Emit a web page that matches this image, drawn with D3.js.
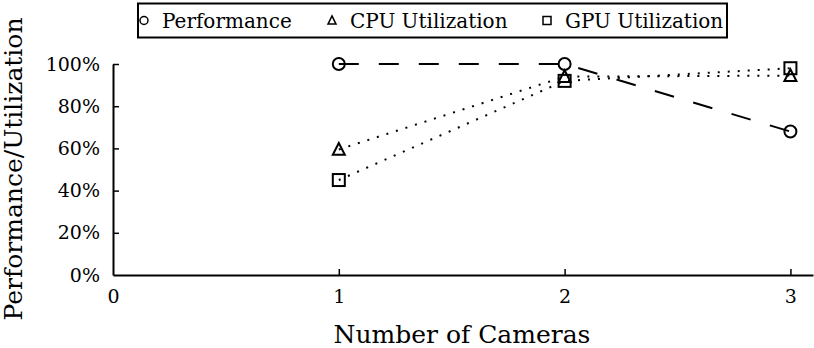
<!DOCTYPE html>
<html>
<head>
<meta charset="utf-8">
<script src="https://cdn.jsdelivr.net/npm/d3@7"></script>
<style>
  body { margin: 0; background: #fff; }
  text { fill: #000; }
</style>
</head>
<body>
<script>
// data
var cameras = [1, 2, 3];
var performance = [1.00, 1.00, 0.68];
var cpuUtil = [0.595, 0.94, 0.945];
var gpuUtil = [0.45, 0.92, 0.98];
var xTicks = [0, 1, 2, 3];
var yTicks = [0, 0.2, 0.4, 0.6, 0.8, 1.0];

var series = [
  { name: "Performance", values: performance, dash: "20,20", marker: "circle" },
  { name: "CPU Utilization", values: cpuUtil, dash: "2,8", marker: "triangle" },
  { name: "GPU Utilization", values: gpuUtil, dash: "2,8", marker: "square" }
];

var serif = "'DejaVu Serif', serif";

var width = 814, height = 348;
var svg = d3.select("body").append("svg")
  .attr("width", width)
  .attr("height", height);

var x = d3.scaleLinear().domain([0, 3.1]).range([113, 813]);
var y = d3.scaleLinear().domain([0, 1]).range([275, 64]);

// axes (ticks point inward)
var xAxis = svg.append("g")
  .attr("transform", "translate(0," + y(0) + ")")
  .call(d3.axisBottom(x).tickValues(xTicks).tickSizeInner(-6).tickSizeOuter(0).tickPadding(15).tickFormat(d3.format("d")));
var yAxis = svg.append("g")
  .attr("transform", "translate(" + x(0) + ",0)")
  .call(d3.axisLeft(y).tickValues(yTicks).tickSizeInner(-6).tickSizeOuter(0).tickPadding(13).tickFormat(d3.format(".0%")));

[xAxis, yAxis].forEach(function (g) {
  g.attr("font-family", serif).attr("font-size", 19);
  g.select(".domain").attr("stroke", "#000").attr("stroke-width", 2);
  g.selectAll(".tick line").attr("stroke", "#000").attr("stroke-width", 1.5);
  g.selectAll(".tick text").attr("fill", "#000");
});
yAxis.selectAll(".tick line").filter(function (d) { return d === 0; }).remove();
xAxis.selectAll(".tick line").filter(function (d) { return d === 0; }).remove();

// axis titles
svg.append("text")
  .attr("x", 462).attr("y", 343)
  .attr("text-anchor", "middle")
  .attr("font-family", serif)
  .attr("font-size", 25)
  .text("Number of Cameras");
svg.append("text")
  .attr("transform", "translate(22,169) rotate(-90)")
  .attr("text-anchor", "middle")
  .attr("font-family", serif)
  .attr("font-size", 25)
  .text("Performance/Utilization");

// markers
function drawMarker(g, type, cx, cy, s) {
  if (type === "circle") {
    g.append("circle").attr("cx", cx).attr("cy", cy).attr("r", s / 2);
  } else if (type === "triangle") {
    var h = s * 0.9;
    g.append("path").attr("d", "M" + cx + "," + (cy - h / 2 - 1) +
      "L" + (cx + s / 2) + "," + (cy + h / 2) + "L" + (cx - s / 2) + "," + (cy + h / 2) + "Z");
  } else {
    g.append("rect").attr("x", cx - s / 2).attr("y", cy - s / 2).attr("width", s).attr("height", s);
  }
}

var line = d3.line()
  .x(function (d) { return x(d[0]); })
  .y(function (d) { return y(d[1]); });

series.forEach(function (s) {
  var pts = cameras.map(function (c, i) { return [c, s.values[i]]; });
  svg.append("path")
    .datum(pts)
    .attr("d", line)
    .attr("fill", "none")
    .attr("stroke", "#000")
    .attr("stroke-width", 2)
    .attr("stroke-dasharray", s.dash);
  var g = svg.append("g").attr("fill", "none").attr("stroke", "#000").attr("stroke-width", 2);
  pts.forEach(function (p) { drawMarker(g, s.marker, x(p[0]), y(p[1]), 12); });
});

// legend
svg.append("rect")
  .attr("x", 138).attr("y", 3.5)
  .attr("width", 589).attr("height", 34)
  .attr("fill", "#fff")
  .attr("stroke", "#000").attr("stroke-width", 2);
var legendX = [144, 332, 547];
series.forEach(function (s, i) {
  var g = svg.append("g").attr("fill", "none").attr("stroke", "#000").attr("stroke-width", 1.5);
  drawMarker(g, s.marker, legendX[i], 20.5, 8);
  svg.append("text")
    .attr("x", legendX[i] + 18).attr("y", 27.5)
    .attr("font-family", serif)
    .attr("font-size", 20)
    .text(s.name);
});
</script>
</body>
</html>
